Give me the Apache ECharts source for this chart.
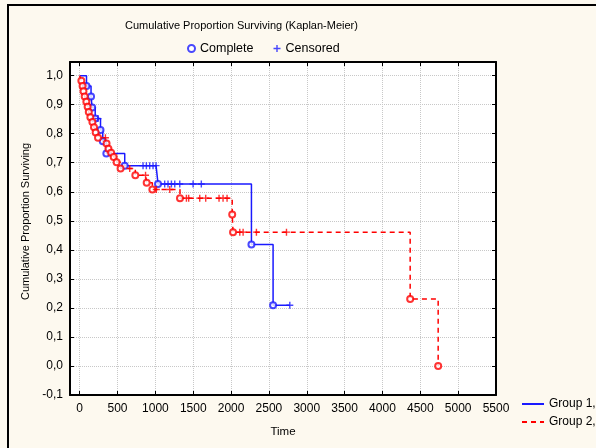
<!DOCTYPE html>
<html><head><meta charset="utf-8">
<script src="https://cdn.jsdelivr.net/npm/echarts@6/dist/echarts.min.js"></script>
<style>
html,body{margin:0;padding:0;background:#fdf9ef;overflow:hidden;}
#c{position:absolute;left:0;top:0;width:596px;height:448px;}
#frame{position:absolute;left:7px;top:4px;width:640px;height:500px;border-left:2px solid #000;border-top:2px solid #000;pointer-events:none;}
</style></head><body>
<div id="c"></div><div id="frame"></div>
<script>
// Tick labels
const xTicks = [0, 500, 1000, 1500, 2000, 2500, 3000, 3500, 4000, 4500, 5000, 5500];
const yTicks = [-0.1, 0.0, 0.1, 0.2, 0.3, 0.4, 0.5, 0.6, 0.7, 0.8, 0.9, 1.0];

// Group 1 (blue, solid): complete (event) observations
const g1EventTime = [90, 150, 165, 205, 275, 305, 352, 595, 1035, 2269, 2555];
const g1EventSurv = [0.964, 0.928, 0.890, 0.852, 0.813, 0.774, 0.732, 0.690, 0.627, 0.418, 0.209];
// Group 1 censored observations
const g1CensTime = [242, 837, 881, 925, 969, 1009, 1123, 1167, 1212, 1256, 1322, 1498, 1607, 2776];
const g1CensSurv = [0.852, 0.690, 0.690, 0.690, 0.690, 0.690, 0.627, 0.627, 0.627, 0.627, 0.627, 0.627, 0.627, 0.209];

// Group 2 (red, dashed): complete (event) observations
const g2EventTime = [22, 38, 50, 66, 88, 105, 120, 141, 168, 189, 211, 242, 355, 380, 415, 449, 488, 540, 735, 885, 960, 1325, 2015, 2026, 4366, 4736];
const g2EventSurv = [0.982, 0.964, 0.946, 0.928, 0.910, 0.893, 0.875, 0.857, 0.840, 0.822, 0.804, 0.786, 0.766, 0.748, 0.734, 0.720, 0.702, 0.680, 0.657, 0.631, 0.608, 0.578, 0.522, 0.461, 0.231, 0.0];
// Group 2 censored observations
const g2CensTime = [340, 661, 870, 1013, 1190, 1410, 1440, 1586, 1665, 1841, 1894, 1947, 2115, 2159, 2335, 2732];
const g2CensSurv = [0.786, 0.680, 0.657, 0.608, 0.608, 0.578, 0.578, 0.578, 0.578, 0.578, 0.578, 0.578, 0.461, 0.461, 0.461, 0.461];

function pairs(t, s) { return t.map((v, i) => [v, s[i]]); }
function stepPath(et, es, ct, cs) {
  const all = pairs(et, es).concat(pairs(ct, cs)).sort((a, b) => a[0] - b[0]);
  return [[0, 1]].concat(all);
}

const BLUE = '#1a1aff', RED = '#ff0000';
const PLUS = 'path://M-1,-5H1V-1H5V1H1V5H-1V1H-5V-1H-1Z';
const FONT = 'Arial, "Liberation Sans", sans-serif';

const chart = echarts.init(document.getElementById('c'), null, {renderer: 'canvas'});
const axisCommon = {
  axisLine: {show: true, onZero: false, lineStyle: {color: '#000', width: 2}},
  axisTick: {show: true, inside: true, length: 4, lineStyle: {color: '#000', width: 1}},
};
chart.setOption({
  animation: false,
  backgroundColor: 'transparent',
  textStyle: {fontFamily: FONT},
  title: {
    text: 'Cumulative Proportion Surviving (Kaplan-Meier)',
    left: 120, top: 15,
    textStyle: {fontSize: 11, fontWeight: 'normal', color: '#000', fontFamily: FONT}
  },
  legend: [{
    data: ['Complete', 'Censored'],
    left: 182, top: 37,
    itemWidth: 7, itemHeight: 7, itemGap: 20,
    textStyle: {fontSize: 12.5, color: '#000', fontFamily: FONT}
  }, {
    data: ['Group 1,', 'Group 2,'],
    orient: 'vertical',
    left: 516, top: 393,
    itemWidth: 22, itemHeight: 10, itemGap: 6,
    itemStyle: {opacity: 0},
    textStyle: {fontSize: 12, color: '#000', fontFamily: FONT}
  }],
  grid: {left: 70, top: 62, width: 426, height: 333, show: true, backgroundColor: '#fff', borderWidth: 0},
  xAxis: [Object.assign({
    type: 'value', min: -128, max: 5500, position: 'bottom',
    name: 'Time', nameLocation: 'middle', nameGap: 31,
    nameTextStyle: {fontSize: 11.5, color: '#000', fontFamily: FONT},
    axisLabel: {customValues: xTicks, color: '#000', fontSize: 12, margin: 8, fontFamily: FONT,
      formatter: v => String(v)},
    splitLine: {show: true, lineStyle: {color: '#c8c8c8', type: 'dotted', width: 1}}
  }, axisCommon, {axisTick: Object.assign({}, axisCommon.axisTick, {customValues: xTicks})}),
  Object.assign({
    type: 'value', min: -128, max: 5500, position: 'top',
    axisLabel: {show: false}, splitLine: {show: false}
  }, axisCommon, {axisTick: Object.assign({}, axisCommon.axisTick, {customValues: xTicks})})],
  yAxis: [Object.assign({
    type: 'value', min: -0.1, max: 1.047, position: 'left',
    name: 'Cumulative Proportion Surviving', nameLocation: 'middle', nameGap: 36,
    nameTextStyle: {fontSize: 11, color: '#000', fontFamily: FONT, padding: [0, 0, 0, 14]},
    axisLabel: {customValues: yTicks, color: '#000', fontSize: 12, margin: 7, fontFamily: FONT,
      formatter: v => v.toFixed(1).replace('.', ',')},
    splitLine: {show: true, lineStyle: {color: '#c8c8c8', type: 'dotted', width: 1}}
  }, axisCommon, {axisTick: Object.assign({}, axisCommon.axisTick, {customValues: yTicks})}),
  Object.assign({
    type: 'value', min: -0.1, max: 1.047, position: 'right',
    axisLabel: {show: false}, splitLine: {show: false}
  }, axisCommon, {axisTick: Object.assign({}, axisCommon.axisTick, {customValues: yTicks})})],
  series: [
    {name: 'Group 1,', type: 'line', step: 'end', symbol: 'none',
     data: stepPath(g1EventTime, g1EventSurv, g1CensTime, g1CensSurv),
     lineStyle: {color: BLUE, width: 1.5}, itemStyle: {color: BLUE}, z: 2},
    {name: 'Group 2,', type: 'line', step: 'end', symbol: 'none',
     data: stepPath(g2EventTime, g2EventSurv, g2CensTime, g2CensSurv),
     lineStyle: {color: RED, width: 1.5, type: [5, 4]}, itemStyle: {color: RED}, z: 2},
    {name: 'Complete', type: 'scatter', symbol: 'emptyCircle', symbolSize: 6,
     data: pairs(g1EventTime, g1EventSurv),
     itemStyle: {color: BLUE, borderColor: BLUE, borderWidth: 1}, z: 3},
    {name: 'Censored', type: 'scatter', symbol: PLUS, symbolSize: 7,
     data: pairs(g1CensTime, g1CensSurv),
     itemStyle: {color: BLUE}, z: 3},
    {name: 'Complete (2)', type: 'scatter', symbol: 'emptyCircle', symbolSize: 6,
     data: pairs(g2EventTime, g2EventSurv),
     itemStyle: {color: RED, borderColor: RED, borderWidth: 1}, z: 4},
    {name: 'Censored (2)', type: 'scatter', symbol: PLUS, symbolSize: 7,
     data: pairs(g2CensTime, g2CensSurv),
     itemStyle: {color: RED}, z: 4}
  ]
});
</script>
</body></html>
